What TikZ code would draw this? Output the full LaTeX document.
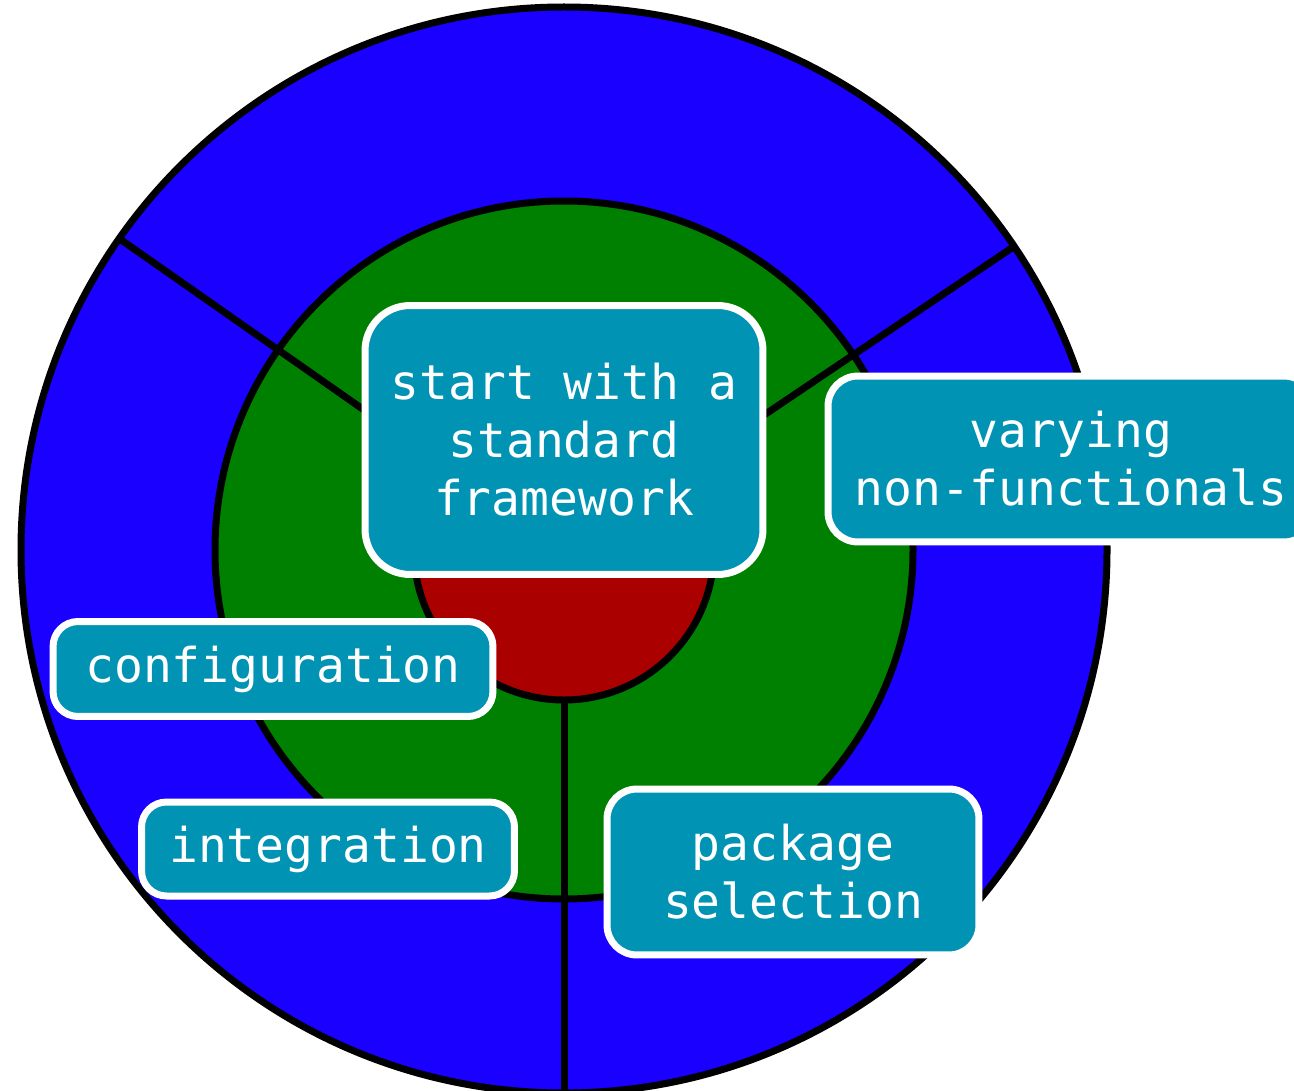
\documentclass[tikz,border=0pt]{standalone}
\usepackage{fontspec}
\setmonofont{DejaVu Sans Mono}
\definecolor{ringblue}{RGB}{26,0,255}
\definecolor{ringgreen}{RGB}{0,128,0}
\definecolor{ringred}{RGB}{170,0,0}
\definecolor{boxfill}{RGB}{0,147,180}
\tikzset{
  ring/.style={draw=black, line width=0.14cm},
  spoke/.style={draw=black, line width=0.14cm},
  label/.style={draw=white, line width=0.14cm, fill=boxfill, rounded corners=0.6cm,
    text=white, align=center, inner sep=0pt,
    font=\ttfamily\fontsize{27.3}{33}\selectfont}
}
\begin{document}
\begin{tikzpicture}[x=0.02cm,y=-0.02cm]
\useasboundingbox (0,0) rectangle (1294,1091);
\clip (0,0) rectangle (1294,1091);
\coordinate (c) at (564,550);
\fill[white] (0,0) rectangle (1294,1091);
\draw[ring, fill=ringblue] (c) circle[radius=543];
\draw[ring, fill=ringgreen] (c) circle[radius=349];
\draw[ring, fill=ringred] (c) circle[radius=150];
\coordinate (l1) at ([shift={(-145:150)}]c);
\coordinate (l2) at ([shift={(-145:545)}]c);
\coordinate (r1) at ([shift={(-34:150)}]c);
\coordinate (r2) at ([shift={(-34:545)}]c);
\coordinate (b1) at ([shift={(90:150)}]c);
\coordinate (b2) at ([shift={(90:560)}]c);
\draw[spoke] (l1) -- (l2);
\draw[spoke] (r1) -- (r2);
\draw[spoke] (b1) -- (b2);
\node[label, rounded corners=0.9cm, minimum width=7.96cm, minimum height=5.38cm] (start) at (564,440) {start with a\\standard\\framework};
\node[label, minimum width=9.72cm, minimum height=3.32cm] (vary) at (1071,459) {varying\\non-functionals};
\node[label, minimum width=8.8cm, minimum height=1.9cm, rounded corners=0.5cm] (conf) at (273,669) {configuration};
\node[label, minimum width=7.46cm, minimum height=1.88cm, rounded corners=0.5cm] (integ) at (328,849) {integration};
\node[label, minimum width=7.44cm, minimum height=3.32cm] (pack) at (793,872) {package\\selection};
\end{tikzpicture}
\end{document}
